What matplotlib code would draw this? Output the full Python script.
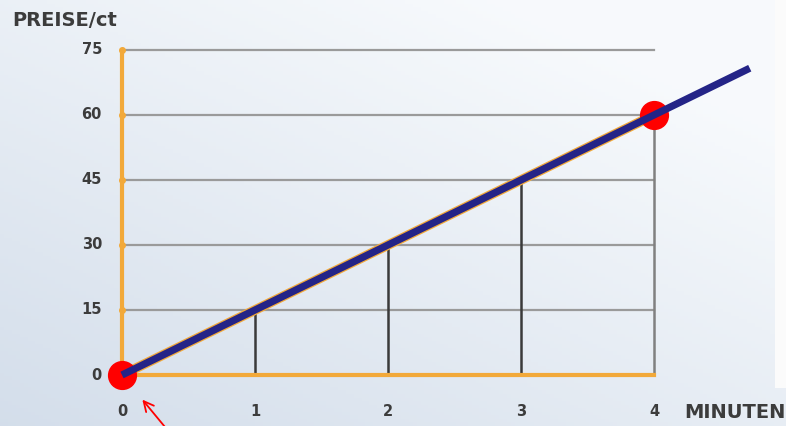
import numpy as np
import matplotlib
matplotlib.use("Agg")
import matplotlib.pyplot as plt

# data
minutes = [0, 1, 2, 3, 4]
prices = [0, 15, 30, 45, 60]
y_ticks = [0, 15, 30, 45, 60, 75]
y_labels = ["0", "15", "30", "45", "60", "75"]
x_labels = ["0", "1", "2", "3", "4"]
line_end = 4.72  # blue line runs past the last point
dots_x = [0, 4]
dots_y = [0, 60]

orange = "#f2a93a"
grid_gray = "#9a9a9a"
text_col = "#3c3c3c"

fig = plt.figure(figsize=(7.86, 4.26), dpi=100)

# background: soft blue-grey screen gradient
bg = fig.add_axes([0, 0, 1, 1], zorder=-10)
xx, yy = np.meshgrid(np.linspace(0, 1, 200), np.linspace(0, 1, 120))
t = np.clip(0.55 * xx + 0.65 * (1 - yy), 0, 1)
c0 = np.array([0.83, 0.87, 0.92])
c1 = np.array([0.97, 0.98, 0.99])
img = c0[None, None, :] * (1 - t[..., None]) + c1[None, None, :] * t[..., None]
bg.imshow(img, aspect="auto", extent=[0, 1, 0, 1], origin="upper")
bg.axis("off")
bg.add_patch(plt.Rectangle((775 / 786, 38 / 426), 11 / 786, 1, transform=bg.transAxes,
                           color="#fbfbfb", lw=0))

px = 133.0  # pixels per minute
left, bottom = 122 / 786, (426 - 375) / 426
ax = fig.add_axes([left, bottom, 5 * px / 786, 325 / 426])
ax.set_xlim(0, 5)
ax.set_ylim(0, 75)
ax.patch.set_alpha(0)
for s in ax.spines.values():
    s.set_visible(False)
ax.set_xticks([])
ax.set_yticks([])

# horizontal grid
for v in y_ticks[1:]:
    ax.plot([0, 4], [v, v], color=grid_gray, lw=1.6, zorder=1, clip_on=False)
    ax.plot([0], [v], marker="o", ms=4, color=orange, zorder=3, clip_on=False)

# verticals down from the line
for m, p in zip(minutes[1:], prices[1:]):
    col = "#3a3a3a" if m < 4 else "#808080"
    ax.plot([m, m], [0, p], color=col, lw=1.8, zorder=2, clip_on=False)

# orange axes
ax.plot([0, 0], [0, 75], color=orange, lw=3, zorder=3, clip_on=False)
ax.plot([0, 4], [0, 0], color=orange, lw=3, zorder=3, clip_on=False)

# orange line under the blue one
ax.plot(minutes, prices, color=orange, lw=7, zorder=4, clip_on=False)
ax.plot([0, line_end], [0, 15 * line_end], color="#242487", lw=5.2,
        zorder=5, clip_on=False, solid_capstyle="butt")
ax.plot(dots_x, dots_y, "o", color="#ff0000", ms=20, zorder=4, clip_on=False)

# tick labels
for v, lab in zip(y_ticks, y_labels):
    ax.annotate(lab, (0, v), xytext=(-20, 0), textcoords="offset pixels",
                ha="right", va="center", fontsize=10.5, fontweight="bold",
                color=text_col, annotation_clip=False)
for m, lab in zip(minutes, x_labels):
    ax.annotate(lab, (m, 0), xytext=(0, -36), textcoords="offset pixels",
                ha="center", va="center", fontsize=10.5, fontweight="bold",
                color=text_col, annotation_clip=False)

fig.text(12 / 786, 1 - 20 / 426, "PREISE/ct", fontsize=14, fontweight="bold",
         color=text_col, va="center", ha="left")
fig.text(684 / 786, 1 - 412 / 426, "MINUTEN", fontsize=14, fontweight="bold",
         color=text_col, va="center", ha="left")

# red pointer arrow
ax.annotate("", xy=(0, 0), xytext=(43, -52), textcoords="offset pixels",
            arrowprops=dict(arrowstyle="->", color="red", lw=1.3,
                            shrinkA=0, shrinkB=23, mutation_scale=18),
            annotation_clip=False)

fig.savefig("out.png", dpi=100)
